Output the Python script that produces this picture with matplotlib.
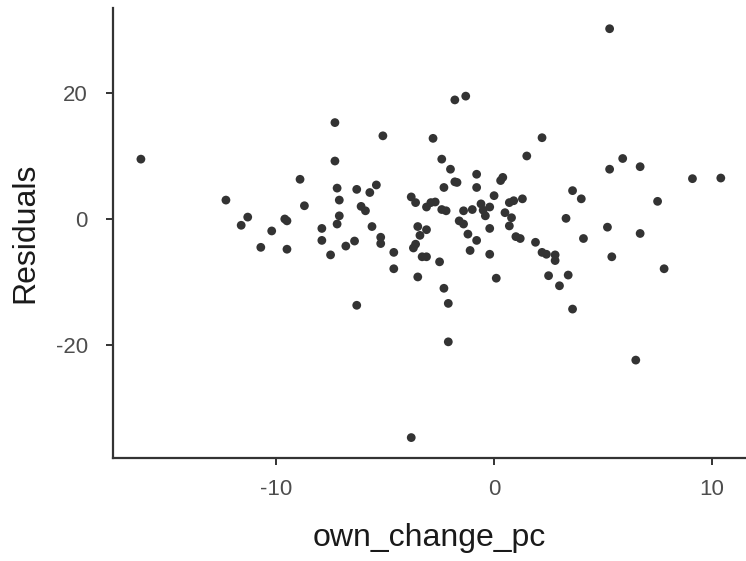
import matplotlib
matplotlib.use("Agg")
import matplotlib.pyplot as plt

# own_change_pc vs residuals
own_change_pc = [
    -16.2, -12.3, -11.6, -11.3, -10.7, -10.2, -9.6, -9.5, -9.5, -8.9,
    -8.7, -7.9, -7.9, -7.5, -7.3, -7.3, -7.2, -7.1, -7.1, -7.2,
    -6.8, -6.4, -6.3, -6.3, -6.1, -5.9, -5.7, -5.4, -5.6, -5.2,
    -5.2, -5.1, -4.6, -4.6, -3.8, -3.6, -3.8, -3.5, -3.1, -3.4,
    -3.6, -3.7, -3.3, -3.1, -3.5, -3.1, -2.9, -2.7, -2.4, -2.2,
    -2.8, -2.4, -2.0, -1.8, -2.3, -1.7, -1.8, -1.3, -2.5, -2.3,
    -2.1, -2.1, -1.4, -1.0, -1.6, -1.4, -1.2, -0.8, -1.1, -0.8,
    -0.8, -0.6, -0.5, -0.4, -0.2, 0.0, -0.2, -0.2, 0.1, 0.3,
    0.4, 0.5, 0.8, 0.7, 0.7, 0.9, 1.3, 1.0, 1.2, 1.5,
    1.9, 2.2, 2.2, 2.4, 2.8, 2.8, 3.4, 2.5, 3.0, 3.6,
    3.6, 4.0, 3.3, 4.1, 5.3, 5.9, 5.3, 6.7, 5.2, 5.4,
    6.7, 7.5, 7.8, 6.5, 9.1, 10.4,
]
residuals = [
    9.5, 3.0, -1.0, 0.3, -4.5, -1.9, 0.0, -0.3, -4.8, 6.3,
    2.1, -1.5, -3.4, -5.7, 9.2, 15.3, 4.9, 3.0, 0.5, -0.8,
    -4.3, -3.5, -13.7, 4.7, 2.0, 1.3, 4.2, 5.4, -1.2, -2.9,
    -3.9, 13.2, -5.3, -7.9, 3.5, 2.6, -34.7, -1.2, -1.7, -2.6,
    -4.0, -4.6, -6.0, -6.0, -9.2, 1.9, 2.6, 2.7, 1.5, 1.3,
    12.8, 9.5, 7.9, 5.9, 5.0, 5.8, 18.9, 19.5, -6.8, -11.0,
    -13.4, -19.5, 1.3, 1.5, -0.3, -0.8, -2.4, -3.4, -5.0, 7.1,
    5.0, 2.4, 1.4, 0.5, 1.9, 3.7, -1.5, -5.6, -9.4, 6.1,
    6.6, 1.0, 0.2, -1.1, 2.6, 2.9, 3.2, -2.8, -3.1, 10.0,
    -3.7, 12.9, -5.3, -5.6, -5.7, -6.6, -8.9, -9.0, -10.6, -14.3,
    4.5, 3.2, 0.1, -3.1, 30.2, 9.6, 7.9, 8.3, -1.3, -6.0,
    -2.3, 2.8, -7.9, -22.4, 6.4, 6.5,
]

plt.rcParams['font.family'] = ['Liberation Sans', 'DejaVu Sans']
plt.rcParams['axes.unicode_minus'] = False

fig = plt.figure(figsize=(7.46, 5.61), dpi=100)
ax = fig.add_axes([113 / 746, 1 - 458 / 561, 632 / 746, 450 / 561])

ax.scatter(own_change_pc, residuals, s=40, color='#333333', edgecolors='none', zorder=3)

ax.set_xlim(-17.48, 11.51)
ax.set_ylim(-37.94, 33.49)
ax.set_xticks([-10, 0, 10])
ax.set_yticks([-20, 0, 20])

for side in ['top', 'right']:
    ax.spines[side].set_visible(False)
for side in ['left', 'bottom']:
    ax.spines[side].set_color('#333333')
    ax.spines[side].set_linewidth(1.6)

ax.tick_params(axis='both', length=5, width=1.4, color='#333333',
               labelsize=16, labelcolor='#4d4d4d')
ax.tick_params(axis='y', pad=13)
ax.tick_params(axis='x', pad=10)

ax.set_xlabel("own_change_pc", fontsize=23, color='#1a1a1a', labelpad=17)
ax.set_ylabel("Residuals", fontsize=23, color='#1a1a1a', labelpad=11)

fig.savefig("out.png", dpi=100)
